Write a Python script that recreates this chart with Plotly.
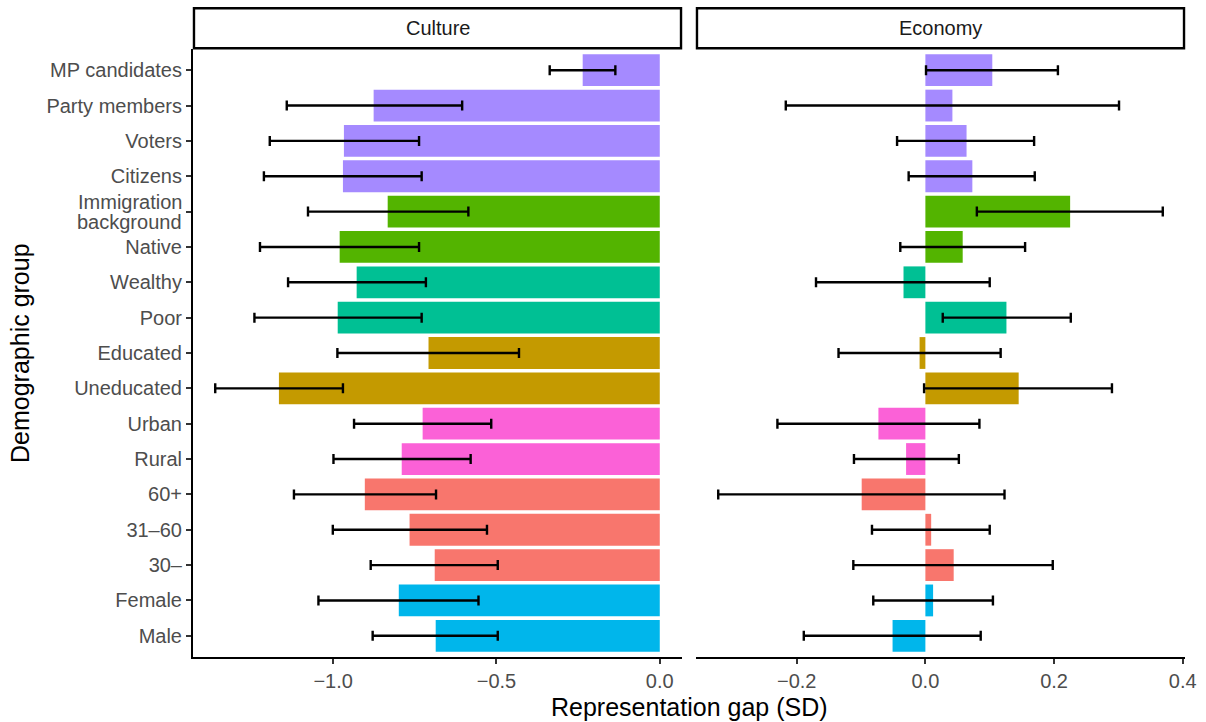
import plotly.graph_objects as go

# ---------------- data ----------------
categories = ["MP candidates", "Party members", "Voters", "Citizens",
              "Immigration background", "Native", "Wealthy", "Poor",
              "Educated", "Uneducated", "Urban", "Rural", "60+", "31–60",
              "30–", "Female", "Male"]
groups = ["Level", "Level", "Level", "Level", "Origin", "Origin", "Income",
          "Income", "Education", "Education", "Residence", "Residence",
          "Age", "Age", "Age", "Gender", "Gender"]

culture = [-0.236, -0.876, -0.967, -0.970, -0.833, -0.980, -0.928, -0.986,
           -0.708, -1.166, -0.726, -0.790, -0.903, -0.766, -0.689, -0.799, -0.686]
culture_lo = [-0.337, -1.142, -1.194, -1.212, -1.077, -1.224, -1.138, -1.241,
              -0.987, -1.361, -0.936, -0.999, -1.120, -1.001, -0.885, -1.045, -0.879]
culture_hi = [-0.136, -0.605, -0.737, -0.729, -0.586, -0.737, -0.716, -0.729,
              -0.431, -0.970, -0.516, -0.579, -0.685, -0.529, -0.496, -0.555, -0.496]

economy = [0.104, 0.042, 0.064, 0.073, 0.225, 0.058, -0.034, 0.126,
           -0.009, 0.145, -0.073, -0.030, -0.099, 0.009, 0.044, 0.012, -0.051]
economy_lo = [0.001, -0.217, -0.044, -0.026, 0.080, -0.039, -0.170, 0.027,
              -0.135, -0.002, -0.230, -0.111, -0.322, -0.083, -0.112, -0.081, -0.189]
economy_hi = [0.206, 0.301, 0.169, 0.170, 0.369, 0.155, 0.100, 0.226,
              0.117, 0.290, 0.084, 0.052, 0.123, 0.100, 0.198, 0.105, 0.086]

panels = ["Culture", "Economy"]
x_title = "Representation gap (SD)"
y_title = "Demographic group"
culture_ticks = [-1.0, -0.5, 0.0]
culture_ticktext = ["−1.0", "−0.5", "0.0"]
economy_ticks = [-0.2, 0.0, 0.2, 0.4]
economy_ticktext = ["−0.2", "0.0", "0.2", "0.4"]

# ---------------- styles ----------------
group_colors = {"Level": "#A58AFF", "Origin": "#53B400", "Income": "#00C094",
                "Education": "#C49A00", "Residence": "#FB61D7",
                "Age": "#F8766D", "Gender": "#00B6EB"}
FONT = "Liberation Sans, Arial, Helvetica, sans-serif"
TICK_COLOR = "#4D4D4D"
colors = [group_colors[g] for g in groups]

W, H = 1206, 722
ML, MR, MT, MB = 193, 21, 49, 65
PW, PH = W - ML - MR, H - MT - MB
gap_px = 14
half = (PW - gap_px) / 2.0
dom1 = [0, half / PW]
dom2 = [(half + gap_px) / PW, 1]


def expanded(lo, hi, vals):
    a = min(min(lo), min(vals), 0)
    b = max(max(hi), max(vals), 0)
    d = (b - a) * 0.05
    return [a - d, b + d]


def make_trace(vals, lo, hi, xa, ya):
    return go.Bar(
        y=categories, x=vals, orientation="h", base=0,
        marker=dict(color=colors, line=dict(width=0)),
        error_x=dict(type="data", symmetric=False,
                     array=[h - v for h, v in zip(hi, vals)],
                     arrayminus=[v - l for v, l in zip(vals, lo)],
                     color="black", thickness=2.4, width=5),
        xaxis=xa, yaxis=ya, showlegend=False, hoverinfo="skip")


fig = go.Figure()
fig.add_trace(make_trace(culture, culture_lo, culture_hi, "x", "y"))
fig.add_trace(make_trace(economy, economy_lo, economy_hi, "x2", "y2"))

cat_order = list(reversed(categories))
yrange = [-0.6, len(categories) - 1 + 0.6]

# long labels wrap onto two lines (drawn as separate annotations for tight spacing)
tick_text = ["" if c.startswith("Immigration") else c for c in categories]

xcommon = dict(showgrid=False, zeroline=False, showline=True, linecolor="black",
               linewidth=2, ticks="outside", ticklen=5, tickwidth=1.6,
               tickcolor="#333333", automargin=False,
               tickfont=dict(size=20, color=TICK_COLOR, family=FONT))

fig.update_layout(
    width=W, height=H,
    margin=dict(l=ML, r=MR, t=MT, b=MB),
    paper_bgcolor="white", plot_bgcolor="white",
    bargap=0.1,
    font=dict(family=FONT),
    xaxis=dict(domain=dom1, range=expanded(culture_lo, culture_hi, culture),
               tickvals=culture_ticks, ticktext=culture_ticktext, anchor="y", **xcommon),
    xaxis2=dict(domain=dom2, range=expanded(economy_lo, economy_hi, economy),
                tickvals=economy_ticks, ticktext=economy_ticktext, anchor="y2", **xcommon),
    yaxis=dict(domain=[0, 1], type="category", categoryorder="array",
               categoryarray=cat_order, range=yrange, showgrid=False, zeroline=False,
               tickvals=categories, ticktext=tick_text, automargin=False,
               showline=True, linecolor="black", linewidth=2, ticks="outside",
               ticklen=5, tickwidth=1.6, tickcolor="#333333",
               tickfont=dict(size=20, color=TICK_COLOR, family=FONT), anchor="x"),
    yaxis2=dict(domain=[0, 1], type="category", categoryorder="array",
                categoryarray=cat_order, range=yrange, showgrid=False, zeroline=False,
                automargin=False,
                showline=False, showticklabels=False, ticks="", anchor="x2"),
)

# two-line tick label
for c, t in zip(categories, tick_text):
    if t == "":
        words = c.split(" ")
        for i, w in enumerate(words):
            fig.add_annotation(xref="paper", yref="y", x=-9 / PW, y=c, text=w,
                               showarrow=False, xanchor="right", yanchor="middle",
                               yshift=10 - 20 * i,
                               font=dict(size=20, color=TICK_COLOR, family=FONT))

# strips
strip_top = (H - MB - 8.3) / PH
strip_bot = (H - MB - 48.3) / PH
strip_mid = (strip_top + strip_bot) / 2
for name, xd in zip(panels, ["x domain", "x2 domain"]):
    fig.add_shape(type="rect", xref=xd, yref="paper", x0=0.002, x1=0.998,
                  y0=strip_bot, y1=strip_top, line=dict(color="black", width=2.4),
                  fillcolor="white", layer="above")
    fig.add_annotation(xref=xd, yref="paper", x=0.5, y=strip_mid, text=name,
                       showarrow=False, xanchor="center", yanchor="middle",
                       font=dict(size=20, color="#1A1A1A", family=FONT))

fig.add_annotation(xref="paper", yref="paper", x=0.5, y=(H - MB - 707) / PH,
                   text=x_title, showarrow=False, xanchor="center", yanchor="middle",
                   font=dict(size=25, color="black", family=FONT))
fig.add_annotation(xref="paper", yref="paper", x=(20 - ML) / PW, y=0.5,
                   text=y_title, showarrow=False, xanchor="center", yanchor="middle",
                   textangle=-90, font=dict(size=25, color="black", family=FONT))

fig.write_html("out.html", config={"displayModeBar": False},
               post_script="document.body.style.margin='0px';document.body.style.overflow='hidden';")
